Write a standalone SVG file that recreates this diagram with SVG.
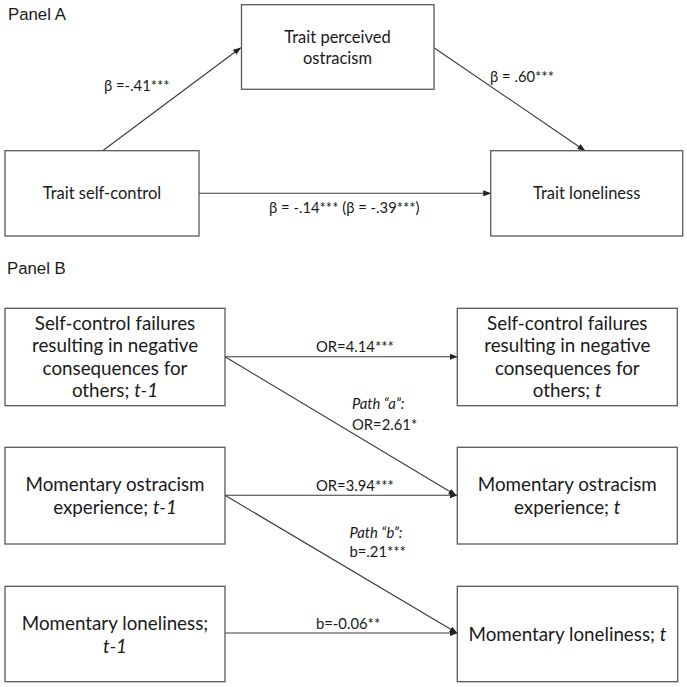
<svg xmlns="http://www.w3.org/2000/svg" width="687" height="687" viewBox="0 0 687 687">
<defs>
<style>
.box{fill:#fff;stroke:#595959;stroke-width:1.3}
.ln{stroke:#3a3a3a;stroke-width:1.1;fill:none;marker-end:url(#ah)}
.tA{font-family:Lato,"Liberation Sans",sans-serif;font-size:16.5px;fill:#1a1a1a;text-anchor:middle}
.tB{font-family:Lato,"Liberation Sans",sans-serif;font-size:18.8px;fill:#1a1a1a;text-anchor:middle}
.lb{font-family:Lato,"Liberation Sans",sans-serif;font-size:14.8px;fill:#1a1a1a}
.pn{font-family:"Liberation Sans",Arial,sans-serif;font-size:16.8px;fill:#1a1a1a}
.i{font-style:italic}
</style>
<marker id="ah" markerWidth="8" markerHeight="6" refX="7.5" refY="3" orient="auto" markerUnits="userSpaceOnUse">
<path d="M0,0 L8,3 L0,6 z" fill="#222"/>
</marker>
</defs>
<rect width="687" height="687" fill="#fff"/>

<text class="pn" x="8" y="20">Panel A</text>
<text class="pn" x="7" y="274">Panel B</text>

<g id="connectors">
<line class="ln" x1="102.7" y1="150.7" x2="240.7" y2="47.7"/>
<line class="ln" x1="434" y1="47.7" x2="585" y2="150.7"/>
<line class="ln" x1="199" y1="193.3" x2="490.7" y2="193.3"/>
<line class="ln" x1="225" y1="356.7" x2="457.3" y2="356.7"/>
<line class="ln" x1="225" y1="356.7" x2="456" y2="495.3"/>
<line class="ln" x1="225" y1="495.3" x2="457.3" y2="495.3"/>
<line class="ln" x1="225" y1="495.3" x2="457" y2="633"/>
<line class="ln" x1="225" y1="633" x2="457.3" y2="633"/>
<text class="lb" x="104" y="90.5">β =-.41***</text>
<text class="lb" x="490" y="82">β = .60***</text>
<text class="lb" x="269" y="213.3">β = -.14*** (β = -.39***)</text>
<text class="lb" x="316" y="352">OR=4.14***</text>
<text class="lb i" x="352" y="408.5">Path “a”:</text>
<text class="lb" x="352" y="430">OR=2.61*</text>
<text class="lb" x="316" y="490.5">OR=3.94***</text>
<text class="lb i" x="349.5" y="538">Path “b”:</text>
<text class="lb" x="349.5" y="557">b=.21***</text>
<text class="lb" x="316" y="629">b=-0.06**</text>
</g>

<g id="n_trait_ostracism">
<rect class="box" x="241.5" y="4.7" width="192.5" height="84.6"/>
<text class="tA" x="337.5" y="42.5">Trait perceived</text>
<text class="tA" x="337.5" y="63.5">ostracism</text>
</g>
<g id="n_trait_selfcontrol">
<rect class="box" x="5" y="150.7" width="194" height="85.3"/>
<text class="tA" x="102" y="199.3">Trait self-control</text>
</g>
<g id="n_trait_loneliness">
<rect class="box" x="490.7" y="150.7" width="192" height="85.3"/>
<text class="tA" x="586.7" y="199.3">Trait loneliness</text>
</g>

<g id="n_scf_t1">
<rect class="box" x="5" y="308.3" width="220" height="97.4"/>
<text class="tB" x="115" y="329.5">Self-control failures</text>
<text class="tB" x="115" y="352">resulting in negative</text>
<text class="tB" x="115" y="374.5">consequences for</text>
<text class="tB" x="115" y="397">others; <tspan class="i">t-1</tspan></text>
</g>
<g id="n_scf_t">
<rect class="box" x="457.3" y="308.3" width="220" height="97.4"/>
<text class="tB" x="567.3" y="329.5">Self-control failures</text>
<text class="tB" x="567.3" y="352">resulting in negative</text>
<text class="tB" x="567.3" y="374.5">consequences for</text>
<text class="tB" x="567.3" y="397">others; <tspan class="i">t</tspan></text>
</g>
<g id="n_ostr_t1">
<rect class="box" x="5" y="447.3" width="220" height="96.7"/>
<text class="tB" x="115" y="490.7">Momentary ostracism</text>
<text class="tB" x="115" y="514">experience; <tspan class="i">t-1</tspan></text>
</g>
<g id="n_ostr_t">
<rect class="box" x="457.3" y="447.3" width="220" height="96.7"/>
<text class="tB" x="567.3" y="490.7">Momentary ostracism</text>
<text class="tB" x="567.3" y="514">experience; <tspan class="i">t</tspan></text>
</g>
<g id="n_lone_t1">
<rect class="box" x="5" y="586.3" width="220" height="95.4"/>
<text class="tB" x="115" y="630">Momentary loneliness;</text>
<text class="tB i" x="115" y="652.7">t-1</text>
</g>
<g id="n_lone_t">
<rect class="box" x="457.3" y="586.3" width="220.4" height="95.4"/>
<text class="tB" x="567.5" y="640.7">Momentary loneliness; <tspan class="i">t</tspan></text>
</g>
</svg>
